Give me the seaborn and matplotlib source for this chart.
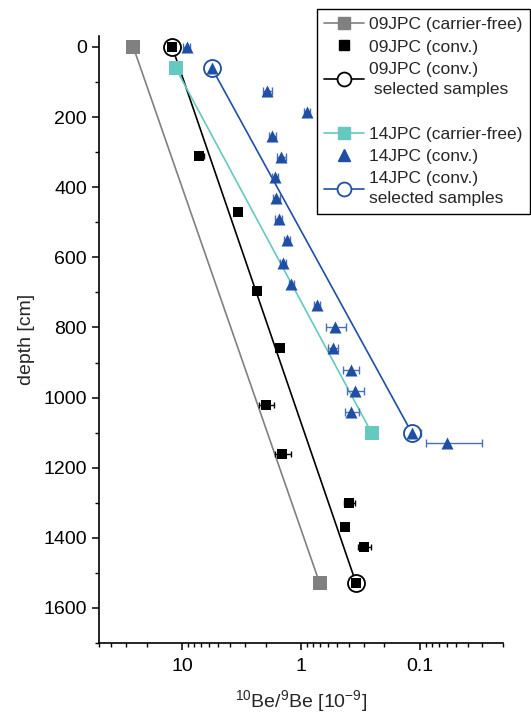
import numpy as np
import pandas as pd
import matplotlib
matplotlib.use("Agg")
import matplotlib.pyplot as plt
from matplotlib.lines import Line2D
from matplotlib.ticker import LogLocator, FixedLocator, FuncFormatter, NullFormatter
import seaborn as sns

# ---------------- data ----------------
cf09_depth = [0, 1530]
cf09_ratio = [25.9, 0.70]

conv09_depth = [0, 310, 470, 695, 860, 1020, 1160, 1300, 1370, 1425, 1530]
conv09_ratio = [12.2, 7.24, 3.42, 2.38, 1.50, 1.99, 1.45, 0.396, 0.426, 0.296, 0.346]
conv09_err = [0.4, 0.6, 0.15, 0.08, 0.06, 0.3, 0.23, 0.045, 0.015, 0.035, 0.01]

sel09_depth = [0, 1530]
sel09_ratio = [12.2, 0.346]

cf14_depth = [60, 1100]
cf14_ratio = [11.4, 0.257]

conv14_depth = [0, 60, 125, 185, 255, 315, 370, 430, 490, 550, 615, 675,
                735, 800, 860, 920, 980, 1040, 1100, 1130]
conv14_ratio = [9.2, 5.66, 1.93, 0.90, 1.75, 1.47, 1.67, 1.62, 1.55, 1.32, 1.43, 1.22,
                0.737, 0.524, 0.545, 0.386, 0.357, 0.379, 0.118, 0.060]
conv14_err = [0.6, 0.3, 0.18, 0.05, 0.12, 0.12, 0.1, 0.1, 0.1, 0.08, 0.08, 0.06,
              0.04, 0.1, 0.05, 0.06, 0.06, 0.05, 0.02, 0.03]

sel14_depth = [60, 1100]
sel14_ratio = [5.66, 0.118]

x_ticks = [10, 1, 0.1]
y_ticks = [0, 200, 400, 600, 800, 1000, 1200, 1400, 1600]

# ---------------- style ----------------
sns.set_theme(style="ticks")
plt.rcParams['font.family'] = ['Liberation Sans', 'DejaVu Sans']
plt.rcParams['mathtext.default'] = 'regular'

GREY = "#808080"
BLACK = "#000000"
TEAL = "#66c9bf"
BLUE = "#1f4ea6"

fig = plt.figure(figsize=(5.31, 7.15), dpi=100)
ax = fig.add_axes([0.187, 0.1007, 0.761, 0.8483])

# lines
sns.lineplot(x=cf09_ratio, y=cf09_depth, sort=False, estimator=None, color=GREY,
             lw=1.2, ax=ax, zorder=1)
sns.lineplot(x=sel09_ratio, y=sel09_depth, sort=False, estimator=None, color=BLACK,
             lw=1.2, ax=ax, zorder=1)
sns.lineplot(x=cf14_ratio, y=cf14_depth, sort=False, estimator=None, color=TEAL,
             lw=1.2, ax=ax, zorder=1)
sns.lineplot(x=sel14_ratio, y=sel14_depth, sort=False, estimator=None, color=BLUE,
             lw=1.2, ax=ax, zorder=1)

# error bars
ax.errorbar(conv09_ratio, conv09_depth, xerr=conv09_err, fmt='none', ecolor=BLACK,
            elinewidth=1.0, capsize=2.5, capthick=1.0, zorder=2)
ax.errorbar(conv14_ratio, conv14_depth, xerr=conv14_err, fmt='none', ecolor="#4a6fb8",
            elinewidth=1.0, capsize=3, capthick=1.0, zorder=2)

# selected-sample open circles
sns.scatterplot(x=sel09_ratio, y=sel09_depth, marker='o', s=150, facecolor='white',
                edgecolor=BLACK, linewidth=1.3, ax=ax, zorder=3)
sns.scatterplot(x=sel14_ratio, y=sel14_depth, marker='o', s=150, facecolor='white',
                edgecolor=BLUE, linewidth=1.3, ax=ax, zorder=3)

# markers
sns.scatterplot(x=cf09_ratio, y=cf09_depth, marker='s', s=100, color=GREY,
                edgecolor=GREY, linewidth=0, ax=ax, zorder=4)
sns.scatterplot(x=conv09_ratio, y=conv09_depth, marker='s', s=60, color=BLACK,
                edgecolor=BLACK, linewidth=0, ax=ax, zorder=4)
sns.scatterplot(x=cf14_ratio, y=cf14_depth, marker='s', s=100, color=TEAL,
                edgecolor=TEAL, linewidth=0, ax=ax, zorder=4)
sns.scatterplot(x=conv14_ratio, y=conv14_depth, marker='^', s=75, color=BLUE,
                edgecolor=BLUE, linewidth=0, ax=ax, zorder=4)

# axes
ax.set_xscale('log')
ax.set_xlim(50, 0.02)
ax.set_ylim(1700, -30)
ax.xaxis.set_major_locator(FixedLocator(x_ticks))
ax.xaxis.set_major_formatter(FuncFormatter(lambda v, p: f"{v:g}"))
ax.xaxis.set_minor_locator(LogLocator(base=10, subs=np.arange(2, 10)))
ax.xaxis.set_minor_formatter(NullFormatter())
ax.yaxis.set_major_locator(FixedLocator(y_ticks))
ax.yaxis.set_minor_locator(FixedLocator(np.arange(100, 1800, 200)))

for s in ['top', 'right']:
    ax.spines[s].set_visible(False)
for s in ['left', 'bottom']:
    ax.spines[s].set_linewidth(1.2)
    ax.spines[s].set_color('black')

ax.tick_params(axis='both', which='major', direction='out', length=5, width=1.1,
               labelsize=14, colors='black')
ax.tick_params(axis='x', which='major', pad=6)
ax.tick_params(axis='y', which='major', pad=4)
ax.tick_params(axis='both', which='minor', direction='out', length=3, width=1.0,
               colors='black')

ax.set_xlabel("$^{10}$Be/$^{9}$Be [10$^{-9}$]", fontsize=14, labelpad=9)
ax.set_ylabel("depth [cm]", fontsize=14, labelpad=6)

# legend
handles = [
    Line2D([], [], color=GREY, lw=1.2, marker='s', ms=9, mfc=GREY, mec=GREY),
    Line2D([], [], color=BLACK, lw=0, marker='s', ms=7, mfc=BLACK, mec=BLACK),
    Line2D([], [], color=BLACK, lw=1.2, marker='o', ms=10, mfc='white', mec=BLACK, mew=1.3),
    Line2D([], [], lw=0, marker=None),
    Line2D([], [], color=TEAL, lw=1.2, marker='s', ms=9, mfc=TEAL, mec=TEAL),
    Line2D([], [], color=BLUE, lw=0, marker='^', ms=8, mfc=BLUE, mec=BLUE),
    Line2D([], [], color=BLUE, lw=1.2, marker='o', ms=10, mfc='white', mec=BLUE, mew=1.3),
]
labels = [
    "09JPC (carrier-free)",
    "09JPC (conv.)",
    "09JPC (conv.)\n selected samples",
    "",
    "14JPC (carrier-free)",
    "14JPC (conv.)",
    "14JPC (conv.)\nselected samples",
]
leg = fig.legend(handles, labels, loc='upper right', bbox_to_anchor=(0.998, 0.987),
                 fontsize=12.5, frameon=True, fancybox=False, edgecolor='black',
                 framealpha=1, handlelength=2.25, handletextpad=0.3,
                 borderpad=0.45, labelspacing=0.41, borderaxespad=0)
leg.get_frame().set_linewidth(1.0)
for t in leg.get_texts():
    t.set_linespacing(1.45)

fig.savefig("out.png", dpi=100)
